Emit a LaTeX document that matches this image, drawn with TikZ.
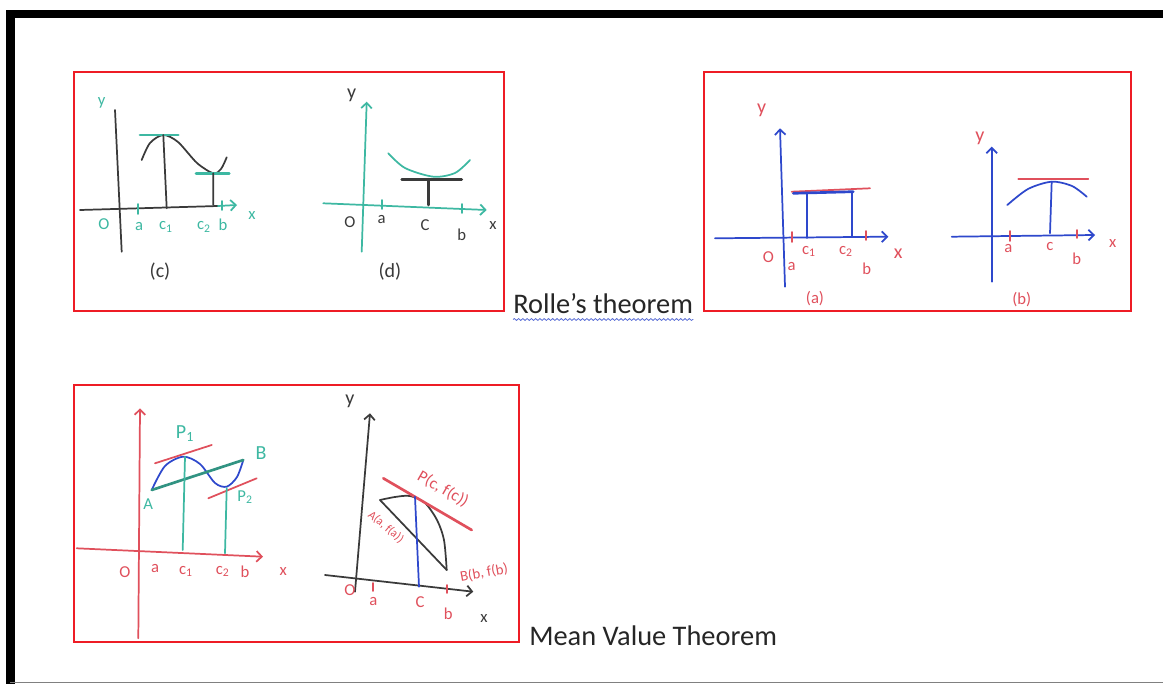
\documentclass[tikz,border=0pt]{standalone}
\usepackage{fontspec}
\setmainfont{Carlito}
\usepackage{tikz}
\usetikzlibrary{arrows.meta,decorations.pathmorphing}
\definecolor{PenTeal}{HTML}{3DB8A2}
\definecolor{PenBlue}{HTML}{2E48CC}
\definecolor{PenRed}{HTML}{E0505C}
\definecolor{PenGray}{HTML}{3A3A3A}
\definecolor{FrameRed}{HTML}{EE1C25}

\begin{document}
\begin{tikzpicture}[
  x=0.75pt,y=-0.75pt,
  frame/.style={draw=FrameRed,line width=2.2pt},
  pen/.style={line width=1.3pt,line cap=round},
  thickpen/.style={line width=2pt,line cap=round},
  axis/.style={pen,-{Straight Barb[length=4pt,width=8pt]}},
  lbl/.style={inner sep=0pt,font=\fontsize{12.5}{12.5}\selectfont},
  biglbl/.style={inner sep=0pt,font=\fontsize{15}{15}\selectfont},
  caption/.style={inner sep=0pt,anchor=base west,font=\fontsize{21.3}{23}\selectfont,text=black!85},
  wavy/.style={PenBlue!80,line width=0.6pt,decorate,decoration={snake,amplitude=0.7pt,segment length=3.2pt}}
]
  \useasboundingbox (0,0) rectangle (1163,684);
  \fill[white] (0,0) rectangle (1163,684);
  \draw[line width=6.5pt,miter limit=10] (10.5,684) -- (10.5,14) -- (1163,14);
  \draw[gray,line width=1pt] (10,682.5) -- (1163,682.5);

  \draw[frame] (74,72) rectangle (504,311);
  \draw[frame] (704,72) rectangle (1131,311);
  \draw[frame] (74,385) rectangle (519,642);

  \node[caption] (rolle) at (513,313.5) {Rolle’s theorem};
  \draw[wavy] ([yshift=-4.5pt]rolle.base west) -- ([yshift=-4.5pt]rolle.base east);
  \node[caption] (mvt) at (529,645) {Mean Value Theorem};

  % (c)
  \draw[pen,PenGray] (115,110) -- (121.7,251.7);
  \draw[pen,PenGray] (80,210) -- (218,206);
  \draw[axis,PenTeal] (218,206) -- (237,205);
  \draw[pen,PenTeal] (138.3,204) -- (138.3,214) (221.7,201) -- (221.7,210);
  \draw[pen,PenGray] plot[smooth] coordinates {(141.7,160) (150,143) (163.3,135) (178,142) (197,163) (213.3,173.3) (221,169) (226.7,157.3)};
  \draw[thickpen,PenTeal] (140,135) -- (178.3,135) (196,173.3) -- (229.3,173.3);
  \draw[pen,PenGray] (163.3,135) -- (166.7,208.3) (213.3,173.3) -- (213.3,205);
  \node[lbl,text=PenTeal] (cy) at (101.7,103) {y};
  \node[lbl,text=PenTeal] (cO) at (104,224) {O};
  \node[lbl,text=PenTeal] (ca) at (139,227) {a};
  \node[lbl,text=PenTeal] (cc1) at (166,227) {c\textsubscript{1}};
  \node[lbl,text=PenTeal] (cc2) at (204,227) {c\textsubscript{2}};
  \node[lbl,text=PenTeal] (cb) at (223,225) {b};
  \node[lbl,text=PenTeal] (cx) at (252,216) {x};
  \node[biglbl,text=PenGray] (cname) at (160,272) {(c)};

  % (d)
  \draw[axis,PenTeal] (361.7,251.7) -- (366.7,101.7);
  \draw[axis,PenTeal] (323.3,203.3) -- (486.7,210);
  \draw[pen,PenTeal] (381.7,200) -- (381.7,209) (462.3,204) -- (462.3,213);
  \draw[pen,PenTeal] plot[smooth] coordinates {(388.3,153.3) (405,168) (433.3,176.7) (455,173) (470,160)};
  \draw[thickpen,PenGray] (401.7,179.3) -- (461.7,179.3);
  \draw[thickpen,PenGray] (428.3,179.3) -- (428.3,205);
  \node[biglbl,text=PenGray] (dy) at (351.7,95) {y};
  \node[lbl,text=PenGray] (dO) at (350,221.7) {O};
  \node[lbl,text=PenGray] (da) at (381.7,220) {a};
  \node[lbl,text=PenGray] (dc) at (425,225) {C};
  \node[lbl,text=PenGray] (db) at (461.7,235) {b};
  \node[lbl,text=PenGray] (dx) at (493,226) {x};
  \node[biglbl,text=PenGray] (dname) at (390,271.7) {(d)};

  % (a)
  \draw[axis,PenBlue] (785,286.7) -- (780,128.3);
  \draw[axis,PenBlue] (715,238.3) -- (888.3,236.7);
  \draw[pen,PenRed] (791.7,232) -- (791.7,242) (865.7,231) -- (865.7,240);
  \draw[pen,PenRed] (791.7,191.7) -- (870,188.3);
  \draw[thickpen,PenBlue] (793.3,193.3) -- (853.3,191.7);
  \draw[pen,PenBlue] (806.7,193) -- (806.7,238) (851.7,192) -- (851.7,237);
  \node[biglbl,text=PenRed] (ay) at (761.7,110) {y};
  \node[lbl,text=PenRed] (aO) at (768.3,256.7) {O};
  \node[lbl,text=PenRed] (aa) at (791.7,266.7) {a};
  \node[lbl,text=PenRed] (ac1) at (809,251.7) {c\textsubscript{1}};
  \node[lbl,text=PenRed] (ac2) at (846,251.7) {c\textsubscript{2}};
  \node[lbl,text=PenRed] (ab) at (866.7,268.3) {b};
  \node[biglbl,text=PenRed] (ax) at (898.3,253.3) {x};
  \node[lbl,text=PenRed] (aname) at (815,298.3) {(a)};

  % (b)
  \draw[axis,PenBlue] (991.7,281.7) -- (991.7,146.7);
  \draw[axis,PenBlue] (951.7,236.7) -- (1095,235);
  \draw[pen,PenRed] (1010,231) -- (1010,241) (1076.7,230) -- (1076.7,238);
  \draw[pen,PenBlue] plot[smooth] coordinates {(1007.3,205) (1028,189) (1051.7,181.7) (1072,186) (1086.7,196.7)};
  \draw[pen,PenRed] (1018.3,179.3) -- (1088.3,179.3);
  \draw[pen,PenBlue] (1051.7,181.7) -- (1050,233.3);
  \node[biglbl,text=PenRed] (by) at (980,138.3) {y};
  \node[lbl,text=PenRed] (ba) at (1008.3,248.3) {a};
  \node[lbl,text=PenRed] (bc) at (1050,246.7) {c};
  \node[lbl,text=PenRed] (bb) at (1076.7,258.3) {b};
  \node[lbl,text=PenRed] (bx) at (1112.7,243.3) {x};
  \node[lbl,text=PenRed] (bname) at (1021.7,300) {(b)};

  % mean value, left
  \draw[axis,PenRed] (138.3,638.3) -- (140,408.3);
  \draw[axis,PenRed] (76.7,548.3) -- (263,556.7);
  \draw[pen,PenBlue] plot[smooth] coordinates {(151.7,490) (165,466) (183.3,456.7) (200,464) (215,483) (226.7,486.7) (237,477) (243.3,460)};
  \draw[thickpen,PenTeal!80!black] (151.7,490) -- (243.3,460);
  \draw[pen,PenRed] (155,463.3) -- (211.7,445) (208.3,498.3) -- (256.7,478.3);
  \draw[pen,PenTeal] (185,456.7) -- (182.7,550) (226.7,488.3) -- (225,553.3);
  \node[biglbl,text=PenTeal] (mp1) at (185,434) {P\textsubscript{1}};
  \node[biglbl,text=PenTeal] (mB) at (261,453.3) {B};
  \node[lbl,text=PenTeal] (mA) at (148.3,504) {A};
  \node[lbl,text=PenTeal] (mp2) at (245,497.3) {P\textsubscript{2}};
  \node[lbl,text=PenRed] (mO) at (125,571.7) {O};
  \node[lbl,text=PenRed] (ma) at (155,568.3) {a};
  \node[lbl,text=PenRed] (mc1) at (186,571.7) {c\textsubscript{1}};
  \node[lbl,text=PenRed] (mc2) at (222.7,571.7) {c\textsubscript{2}};
  \node[lbl,text=PenRed] (mb) at (245,571.7) {b};
  \node[lbl,text=PenRed] (mx) at (283.3,571.7) {x};

  % mean value, right
  \draw[axis,PenGray] (355,591.7) -- (370,413.3);
  \draw[axis,PenGray] (325,575) -- (473.3,591.7);
  \draw[pen,PenRed] (373.3,583) -- (373.3,591) (446.7,585) -- (446.7,593);
  \draw[pen,PenGray] plot[smooth] coordinates {(380,500) (395,497) (410,496) (425,503) (437,520) (444,540) (446.7,570)};
  \draw[pen,PenGray] (380,500) -- (446.7,570);
  \draw[thickpen,PenRed] (383.3,478.3) -- (471.7,530);
  \draw[pen,PenBlue] (415,496.7) -- (419,586.7);
  \node[biglbl,text=PenGray] (ny) at (350,401.7) {y};
  \node[lbl,text=PenRed] (nO) at (350,590) {O};
  \node[lbl,text=PenRed] (na) at (373.3,601.7) {a};
  \node[lbl,text=PenRed] (nc) at (420,601.7) {C};
  \node[lbl,text=PenRed] (nb) at (448.3,613.3) {b};
  \node[lbl,text=PenGray] (nx) at (484,618.3) {x};
  \node[lbl,text=PenRed,rotate=-30] (nP) at (443,489) {P(c, f(c))};
  \node[lbl,text=PenRed,rotate=-40,font=\fontsize{9}{9}\selectfont] (nA) at (386,527) {A(a, f(a))};
  \node[lbl,text=PenRed,rotate=10,font=\fontsize{11}{11}\selectfont] (nB) at (484,573) {B(b, f(b)};
\end{tikzpicture}
\end{document}
